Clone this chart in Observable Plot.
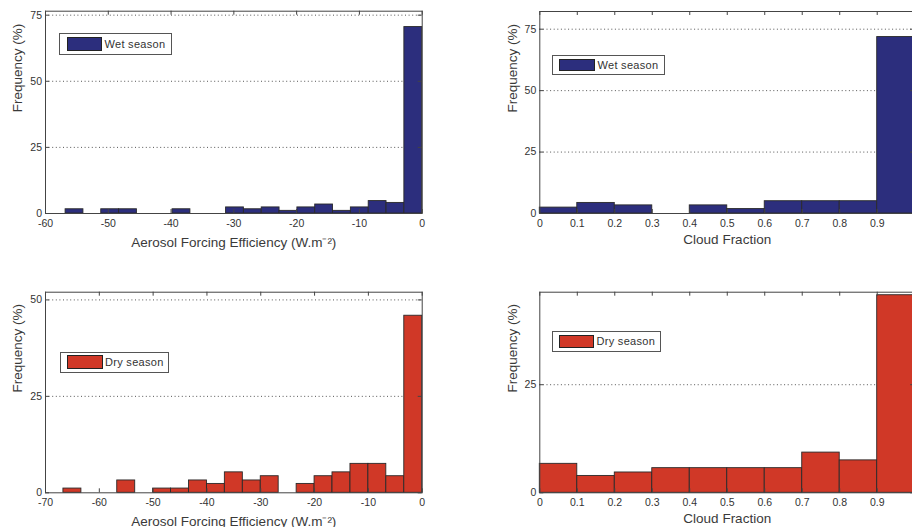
<!DOCTYPE html>
<html>
<head>
<meta charset="utf-8">
<script src="https://cdn.jsdelivr.net/npm/d3@7"></script>
<script src="https://cdn.jsdelivr.net/npm/@observablehq/plot@0.6"></script>
<style>
  html, body { margin: 0; padding: 0; background: #fff; width: 912px; height: 527px; overflow: hidden; }
  #root { position: relative; width: 912px; height: 527px; overflow: hidden; font-family: "Liberation Sans", Arial, sans-serif; }
  .panel { position: absolute; }
  .legend { position: absolute; border: 1px solid #555; background: #fff; box-sizing: border-box; }
  .legend .sw { position: absolute; border: 1px solid #222; box-sizing: border-box; }
  .legend .lb { position: absolute; font-size: 11px; color: #333; letter-spacing: 0.3px; white-space: nowrap; }
</style>
</head>
<body>
<div id="root"></div>
<script>
// ---- data ----
const wetColor = "#2c2e7d";
const dryColor = "#d03827";

// Aerosol forcing efficiency histograms (bin edges, W.m-2) and frequencies (%)
const wetAfeEdges = [-56.8, -53.96, -51.12, -48.28, -45.44, -42.6, -39.76, -36.92, -34.08, -31.24, -28.4, -25.56, -22.72, -19.88, -17.04, -14.2, -11.36, -8.52, -5.68, -2.84, 0];
const wetAfeFreq  = [1.6, 0, 1.6, 1.6, 0, 0, 1.6, 0, 0, 2.3, 1.6, 2.3, 1.0, 2.3, 3.4, 1.0, 2.3, 4.7, 4.0, 70.5];

const dryAfeEdges = [-66.67, -63.33, -60, -56.67, -53.33, -50, -46.67, -43.33, -40, -36.67, -33.33, -30, -26.67, -23.33, -20, -16.67, -13.33, -10, -6.67, -3.33, 0];
const dryAfeFreq  = [1.1, 0, 0, 3.2, 0, 1.1, 1.1, 3.2, 2.3, 5.3, 3.2, 4.3, 0, 2.3, 4.3, 5.3, 7.5, 7.5, 4.3, 45.9];

// Cloud fraction histograms
const cfEdges    = [0, 0.1, 0.2, 0.3, 0.4, 0.5, 0.6, 0.7, 0.8, 0.9, 1.0];
const wetCfFreq  = [2.4, 4.3, 3.3, 0, 3.3, 1.8, 5.0, 5.0, 5.0, 71.8];
const dryCfFreq  = [6.7, 3.9, 4.7, 5.7, 5.7, 5.7, 5.7, 9.3, 7.5, 45.7];

// tick labels
const afeTicksWet = [-60, -50, -40, -30, -20, -10, 0];
const afeTicksDry = [-70, -60, -50, -40, -30, -20, -10, 0];
const cfTicks     = [0, 0.1, 0.2, 0.3, 0.4, 0.5, 0.6, 0.7, 0.8, 0.9];
const cfTickLabels = ["0", "0.1", "0.2", "0.3", "0.4", "0.5", "0.6", "0.7", "0.8", "0.9"];
const yTicksWet = [0, 25, 50, 75];
const yTicksDryAfe = [0, 25, 50];
const yTicksDryCf = [0, 25];

const afeLabel = "Aerosol Forcing Efficiency (W.m\u207B\u00B2)";
const cfLabel = "Cloud Fraction";
const yLabel = "Frequency (%)";
const wetName = "Wet season";
const dryName = "Dry season";

function toBins(edges, freq) {
  return freq.map((f, i) => ({x1: edges[i], x2: edges[i + 1], f})).filter(d => d.f > 0);
}

function panel(cfg) {
  const fw = cfg.width - cfg.mL - cfg.mR;
  const fh = cfg.height - cfg.mT - cfg.mB;
  const tickStyle = {stroke: "#444", strokeOpacity: 1, strokeWidth: 1};
  const fmt = cfg.xFormat || (d => String(d));
  const plot = Plot.plot({
    width: cfg.width,
    height: cfg.height,
    marginLeft: cfg.mL, marginRight: cfg.mR, marginTop: cfg.mT, marginBottom: cfg.mB,
    style: {fontFamily: "'Liberation Sans', Arial, sans-serif", fontSize: "10.5px", color: "#333", background: "transparent", overflow: "visible"},
    x: {domain: cfg.xDomain, axis: null},
    y: {domain: cfg.yDomain, axis: null},
    marks: [
      Plot.gridY(cfg.yTicks.filter(t => t > 0), {stroke: "#555", strokeOpacity: 1, strokeWidth: 1, strokeDasharray: "1,2.6"}),
      Plot.rectY(toBins(cfg.edges, cfg.freq), {x1: "x1", x2: "x2", y: "f", fill: cfg.color, stroke: "#2a2a2a", strokeWidth: 0.9}),
      Plot.gridX(cfg.xTicks, {...tickStyle, insetTop: fh - 4}),
      Plot.gridX(cfg.xTicks, {...tickStyle, insetBottom: fh - 4}),
      Plot.gridY(cfg.yTicks, {...tickStyle, insetRight: fw - 4}),
      Plot.gridY(cfg.yTicks, {...tickStyle, insetLeft: fw - 4}),
      Plot.axisX(cfg.xTicks, {anchor: "bottom", tickSize: 0, tickPadding: 6, tickFormat: fmt, label: null, fill: "#333"}),
      Plot.axisY(cfg.yTicks, {anchor: "left", tickSize: 0, tickPadding: 3.5, tickFormat: d => String(d), label: null, fill: "#333"}),
      Plot.frame({stroke: "#444", strokeWidth: 1}),
      Plot.text([cfg.xLabel], {text: d => d, frameAnchor: "bottom", dy: cfg.xLabelDy, lineAnchor: "middle", fontSize: 13.5, fill: "#3a3a3a"}),
      Plot.text([yLabel], {text: d => d, frameAnchor: "left", rotate: -90, dx: cfg.yLabelDx, lineAnchor: "middle", fontSize: 13.5, fill: "#3a3a3a"})
    ]
  });
  plot.classList.add("panel");
  plot.style.left = cfg.left + "px";
  plot.style.top = cfg.top + "px";
  return plot;
}

function legend(name, color, box, sw, textX) {
  const d = document.createElement("div");
  d.className = "legend";
  d.style.left = box[0] + "px"; d.style.top = box[1] + "px";
  d.style.width = box[2] + "px"; d.style.height = box[3] + "px";
  const s = document.createElement("div");
  s.className = "sw";
  s.style.left = (sw[0] - box[0] - 1) + "px"; s.style.top = (sw[1] - box[1] - 1) + "px";
  s.style.width = sw[2] + "px"; s.style.height = sw[3] + "px";
  s.style.background = color;
  const t = document.createElement("div");
  t.className = "lb";
  t.textContent = name;
  t.style.left = (textX - box[0] - 1) + "px";
  t.style.top = "0px";
  t.style.lineHeight = (box[3] - 2) + "px";
  d.appendChild(s); d.appendChild(t);
  return d;
}

const root = document.getElementById("root");

root.appendChild(panel({
  left: 0, top: 0, width: 440, height: 250, mL: 45, mR: 18.3, mT: 10.7, mB: 37,
  xDomain: [-60, 0], yDomain: [0, 76.5], xTicks: afeTicksWet, yTicks: yTicksWet,
  edges: wetAfeEdges, freq: wetAfeFreq, color: wetColor, xLabel: afeLabel, xLabelDy: 29.5, yLabelDx: -28
}));
root.appendChild(panel({
  left: 460, top: 0, width: 460, height: 250, mL: 79.3, mR: 5.8, mT: 11, mB: 37,
  xDomain: [0, 1], yDomain: [0, 82.2], xTicks: cfTicks, yTicks: yTicksWet,
  xFormat: (d, i) => cfTickLabels[i],
  edges: cfEdges, freq: wetCfFreq, color: wetColor, xLabel: cfLabel, xLabelDy: 26, yLabelDx: -27.6
}));
root.appendChild(panel({
  left: 0, top: 270, width: 440, height: 257, mL: 45, mR: 18.3, mT: 21.7, mB: 34.7,
  xDomain: [-70, 0], yDomain: [0, 52], xTicks: afeTicksDry, yTicks: yTicksDryAfe,
  edges: dryAfeEdges, freq: dryAfeFreq, color: dryColor, xLabel: afeLabel, xLabelDy: 29, yLabelDx: -28
}));
root.appendChild(panel({
  left: 460, top: 270, width: 460, height: 257, mL: 79.3, mR: 5.8, mT: 21.7, mB: 34.7,
  xDomain: [0, 1], yDomain: [0, 46.4], xTicks: cfTicks, yTicks: yTicksDryCf,
  xFormat: (d, i) => cfTickLabels[i],
  edges: cfEdges, freq: dryCfFreq, color: dryColor, xLabel: cfLabel, xLabelDy: 26, yLabelDx: -27.6
}));

root.appendChild(legend(wetName, wetColor, [59.3, 33.3, 112.4, 22], [66.7, 37.3, 35, 13.7], 104.5));
root.appendChild(legend(wetName, wetColor, [552.3, 55.3, 112.7, 20], [559.3, 58.7, 35.7, 12.6], 597.5));
root.appendChild(legend(dryName, dryColor, [60.3, 351.7, 109, 21.6], [67.3, 355.3, 35.4, 13.4], 105));
root.appendChild(legend(dryName, dryColor, [551.7, 331.3, 109, 20.7], [559, 335, 35, 12.7], 596.5));
</script>
</body>
</html>
